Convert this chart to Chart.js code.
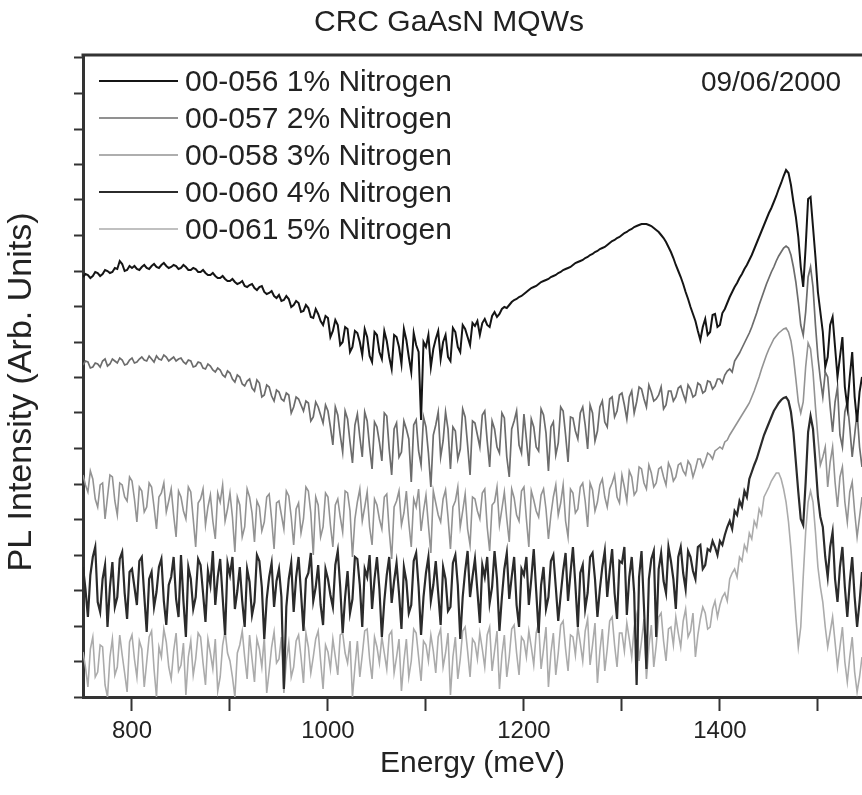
<!DOCTYPE html>
<html lang="en">
<head>
    <meta charset="UTF-8">
    <title>CRC GaAsN MQWs</title>
    <script src="https://cdn.jsdelivr.net/npm/chart.js"></script>
    <style>
        body { margin: 0; background: #fff; }
        #plChart { display: block; }
    </style>
</head>
<body>
    <canvas id="plChart" width="862" height="795"></canvas>

    <script>
        // Energy axis (meV), sampled every 2.5 meV
        const energy = [
            750, 752.5, 755, 757.5, 760, 762.5, 765, 767.5, 770, 772.5, 775, 777.5, 780, 782.5, 785, 787.5, 790, 792.5, 795, 797.5,
            800, 802.5, 805, 807.5, 810, 812.5, 815, 817.5, 820, 822.5, 825, 827.5, 830, 832.5, 835, 837.5, 840, 842.5, 845, 847.5,
            850, 852.5, 855, 857.5, 860, 862.5, 865, 867.5, 870, 872.5, 875, 877.5, 880, 882.5, 885, 887.5, 890, 892.5, 895, 897.5,
            900, 902.5, 905, 907.5, 910, 912.5, 915, 917.5, 920, 922.5, 925, 927.5, 930, 932.5, 935, 937.5, 940, 942.5, 945, 947.5,
            950, 952.5, 955, 957.5, 960, 962.5, 965, 967.5, 970, 972.5, 975, 977.5, 980, 982.5, 985, 987.5, 990, 992.5, 995, 997.5,
            1000, 1002.5, 1005, 1007.5, 1010, 1012.5, 1015, 1017.5, 1020, 1022.5, 1025, 1027.5, 1030, 1032.5, 1035, 1037.5, 1040, 1042.5, 1045, 1047.5,
            1050, 1052.5, 1055, 1057.5, 1060, 1062.5, 1065, 1067.5, 1070, 1072.5, 1075, 1077.5, 1080, 1082.5, 1085, 1087.5, 1090, 1092.5, 1095, 1097.5,
            1100, 1102.5, 1105, 1107.5, 1110, 1112.5, 1115, 1117.5, 1120, 1122.5, 1125, 1127.5, 1130, 1132.5, 1135, 1137.5, 1140, 1142.5, 1145, 1147.5,
            1150, 1152.5, 1155, 1157.5, 1160, 1162.5, 1165, 1167.5, 1170, 1172.5, 1175, 1177.5, 1180, 1182.5, 1185, 1187.5, 1190, 1192.5, 1195, 1197.5,
            1200, 1202.5, 1205, 1207.5, 1210, 1212.5, 1215, 1217.5, 1220, 1222.5, 1225, 1227.5, 1230, 1232.5, 1235, 1237.5, 1240, 1242.5, 1245, 1247.5,
            1250, 1252.5, 1255, 1257.5, 1260, 1262.5, 1265, 1267.5, 1270, 1272.5, 1275, 1277.5, 1280, 1282.5, 1285, 1287.5, 1290, 1292.5, 1295, 1297.5,
            1300, 1302.5, 1305, 1307.5, 1310, 1312.5, 1315, 1317.5, 1320, 1322.5, 1325, 1327.5, 1330, 1332.5, 1335, 1337.5, 1340, 1342.5, 1345, 1347.5,
            1350, 1352.5, 1355, 1357.5, 1360, 1362.5, 1365, 1367.5, 1370, 1372.5, 1375, 1377.5, 1380, 1382.5, 1385, 1387.5, 1390, 1392.5, 1395, 1397.5,
            1400, 1402.5, 1405, 1407.5, 1410, 1412.5, 1415, 1417.5, 1420, 1422.5, 1425, 1427.5, 1430, 1432.5, 1435, 1437.5, 1440, 1442.5, 1445, 1447.5,
            1450, 1452.5, 1455, 1457.5, 1460, 1462.5, 1465, 1467.5, 1470, 1472.5, 1475, 1477.5, 1480, 1482.5, 1485, 1487.5, 1490, 1492.5, 1495, 1497.5,
            1500, 1502.5, 1505, 1507.5, 1510, 1512.5, 1515, 1517.5, 1520, 1522.5, 1525, 1527.5, 1530, 1532.5, 1535, 1537.5, 1540, 1542.5, 1545
        ];

        // PL intensity (arb. units, curves stacked with offsets as in the figure)
        const n1 = [
            420, 423, 422, 419, 421, 425, 424, 421, 423, 427, 426, 424, 425, 429, 428, 436, 433, 426, 427, 431,
            429, 431, 428, 427, 430, 432, 429, 428, 431, 433, 430, 429, 432, 434, 431, 429, 430, 432, 431, 428,
            429, 432, 430, 427, 427, 429, 428, 425, 425, 427, 424, 422, 422, 424, 421, 419, 419, 421, 418, 416,
            416, 418, 415, 413, 414, 416, 411, 410, 412, 413, 409, 407, 410, 411, 405, 403, 404, 406, 401, 399,
            402, 396, 397, 401, 398, 390, 392, 396, 394, 385, 386, 392, 389, 380, 379, 388, 383, 376, 372, 381,
            379, 360, 366, 377, 372, 352, 355, 370, 368, 345, 350, 366, 364, 355, 342, 368, 360, 341, 335, 365,
            362, 345, 338, 366, 356, 340, 328, 362, 360, 350, 333, 368, 357, 340, 325, 364, 352, 345, 277, 355,
            350, 362, 330, 348, 358, 366, 338, 355, 362, 340, 336, 369, 365, 350, 345, 372, 368, 360, 352, 374,
            371, 376, 362, 374, 378, 372, 370, 381, 385, 380, 383, 388, 390, 389, 392, 395, 397, 398, 400, 401,
            403, 405, 407, 409, 410, 411, 413, 415, 416, 417, 418, 420, 421, 422, 424, 425, 427, 428, 429, 430,
            432, 434, 435, 436, 437, 439, 440, 442, 443, 445, 446, 448, 449, 450, 452, 454, 456, 457, 459, 460,
            462, 464, 465, 467, 468, 470, 471, 472, 473, 473, 473, 472, 471, 469, 467, 465, 462, 459, 455, 450,
            445, 439, 432, 426, 420, 413, 405, 398, 390, 383, 376, 366, 357, 370, 378, 362, 365, 382, 383, 370,
            372, 384, 388, 394, 400, 405, 410, 414, 419, 423, 428, 432, 437, 442, 448, 454, 460, 466, 472, 478,
            484, 489, 495, 501, 508, 514, 521, 527, 524, 512, 495, 480, 460, 430, 410, 450, 498, 500, 470, 440,
            405, 385, 365, 330, 340, 372, 380, 350, 320, 340, 360, 310, 290, 320, 345, 300, 275, 305, 320
        ];
        const n2 = [
            332, 336, 335, 329, 330, 334, 333, 330, 336, 338, 331, 333, 338, 336, 334, 339, 337, 332, 333, 337,
            339, 334, 335, 338, 340, 337, 336, 341, 338, 335, 341, 338, 337, 342, 340, 336, 338, 340, 336, 338,
            339, 335, 333, 337, 336, 330, 331, 335, 334, 329, 328, 333, 331, 327, 325, 329, 327, 322, 320, 326,
            324, 318, 315, 322, 320, 313, 311, 316, 318, 309, 306, 317, 314, 300, 302, 312, 310, 301, 296, 307,
            305, 298, 296, 304, 302, 284, 290, 300, 298, 292, 286, 296, 294, 276, 280, 295, 290, 282, 274, 292,
            286, 270, 252, 290, 282, 262, 245, 286, 278, 255, 234, 272, 283, 260, 240, 285, 276, 250, 228, 275,
            270, 255, 236, 284, 281, 248, 222, 268, 274, 240, 245, 276, 268, 258, 215, 272, 277, 246, 232, 280,
            270, 244, 210, 262, 272, 285, 240, 256, 285, 268, 228, 270, 266, 238, 248, 288, 280, 252, 222, 276,
            274, 262, 250, 282, 286, 256, 230, 276, 268, 250, 244, 284, 279, 240, 220, 268, 276, 286, 252, 244,
            283, 258, 231, 278, 270, 250, 246, 288, 282, 264, 226, 270, 275, 242, 254, 290, 286, 262, 235, 280,
            279, 266, 258, 284, 290, 272, 248, 292, 284, 256, 266, 290, 296, 275, 270, 298, 300, 280, 286, 302,
            304, 292, 278, 300, 306, 284, 295, 310, 308, 298, 290, 312, 305, 296, 298, 302, 310, 288, 292, 306,
            306, 296, 300, 309, 311, 303, 296, 312, 308, 300, 302, 314, 312, 304, 306, 316, 315, 308, 311, 318,
            318, 314, 322, 326, 328, 325, 336, 340, 344, 349, 354, 359, 364, 370, 377, 384, 392, 399, 406, 413,
            419, 425, 430, 436, 441, 445, 449, 451, 449, 442, 430, 415, 395, 372, 362, 385, 420, 430, 410, 372,
            340, 318, 300, 325, 320, 290, 265, 295, 310, 262, 250, 285, 295, 270, 240, 262, 285, 250, 230
        ];
        const n3 = [
            222, 212, 205, 226, 218, 198, 190, 212, 214, 178, 200, 222, 220, 196, 182, 214, 212, 200, 196, 220,
            216, 198, 175, 210, 206, 185, 190, 214, 210, 190, 168, 200, 204, 214, 185, 196, 208, 182, 160, 206,
            200, 186, 178, 210, 205, 178, 150, 194, 198, 208, 172, 190, 202, 176, 158, 204, 195, 212, 176, 188,
            204, 180, 145, 200, 192, 160, 170, 208, 200, 184, 155, 196, 190, 166, 175, 200, 203, 178, 148, 194,
            196, 182, 168, 206, 201, 180, 152, 188, 194, 164, 178, 210, 206, 184, 142, 200, 192, 160, 170, 204,
            200, 172, 150, 192, 198, 180, 165, 206, 204, 186, 140, 178, 195, 208, 176, 190, 205, 170, 152, 198,
            192, 178, 168, 200, 203, 166, 138, 190, 196, 206, 172, 184, 206, 174, 150, 198, 190, 208, 166, 186,
            202, 172, 144, 206, 194, 182, 175, 198, 207, 180, 148, 190, 196, 210, 170, 186, 203, 168, 152, 200,
            198, 186, 178, 204, 208, 170, 146, 192, 195, 210, 172, 188, 205, 178, 155, 208, 199, 182, 176, 206,
            210, 178, 150, 206, 197, 186, 180, 202, 208, 188, 158, 182, 200, 212, 182, 194, 212, 176, 160, 208,
            204, 184, 188, 210, 214, 196, 170, 214, 207, 186, 195, 212, 218, 200, 190, 208, 214, 222, 200, 194,
            222, 210, 196, 226, 220, 202, 206, 230, 228, 214, 208, 232, 224, 210, 214, 228, 230, 220, 212, 234,
            228, 216, 220, 232, 234, 226, 222, 236, 232, 220, 228, 238, 238, 230, 236, 244, 242, 238, 246, 248,
            250, 248, 255, 257, 262, 266, 270, 274, 278, 282, 286, 290, 294, 300, 306, 313, 320, 328, 335, 342,
            348, 353, 358, 361, 364, 366, 368, 369, 365, 356, 340, 318, 295, 284, 295, 330, 354, 348, 325, 290,
            260, 232, 240, 250, 210, 235, 250, 215, 190, 220, 230, 195, 175, 205, 215, 185, 160, 180, 200
        ];
        const n4 = [
            130, 108, 80, 122, 140, 150, 95, 85, 118, 132, 70, 110, 135, 90, 100, 138, 145, 104, 78, 125,
            128, 110, 92, 136, 140, 102, 65, 118, 125, 90, 105, 130, 138, 96, 72, 112, 120, 140, 98, 80,
            142, 96, 60, 130, 118, 88, 100, 138, 132, 104, 75, 126, 112, 146, 92, 120, 138, 100, 62, 134,
            122, 140, 88, 106, 130, 96, 70, 128, 115, 82, 95, 142, 136, 110, 58, 98, 120, 134, 90, 116,
            128, 100, 8, 90, 118, 134, 85, 120, 140, 104, 66, 118, 124, 144, 96, 110, 132, 92, 72, 128,
            118, 102, 90, 132, 146, 110, 64, 100, 126, 84, 98, 140, 138, 112, 70, 128, 120, 142, 88, 118,
            140, 108, 60, 96, 122, 140, 94, 116, 134, 104, 68, 130, 116, 84, 92, 136, 144, 110, 62, 100,
            124, 140, 96, 112, 136, 104, 72, 130, 118, 86, 90, 134, 142, 112, 58, 100, 126, 146, 100, 120,
            138, 106, 74, 132, 120, 140, 94, 110, 146, 118, 66, 100, 128, 144, 98, 120, 140, 92, 70, 128,
            122, 140, 92, 118, 148, 106, 64, 112, 130, 88, 100, 136, 142, 110, 76, 102, 126, 144, 96, 124,
            150, 112, 70, 124, 132, 88, 104, 140, 144, 118, 80, 108, 130, 146, 100, 126, 148, 104, 78, 136,
            134, 150, 82, 120, 140, 104, 12, 120, 146, 90, 28, 118, 138, 146, 60, 128, 144, 116, 104, 150,
            136, 118, 88, 140, 150, 124, 108, 146, 140, 126, 118, 150, 152, 128, 132, 148, 146, 156, 150, 142,
            156, 152, 162, 170, 176, 168, 186, 182, 196, 190, 206, 200, 218, 225, 232, 238, 246, 254, 262, 268,
            274, 280, 286, 290, 294, 297, 299, 300, 296, 285, 265, 235, 205, 178, 172, 215, 265, 281, 268, 235,
            200, 180, 170, 140, 120, 150, 165, 118, 95, 130, 150, 110, 80, 115, 140, 100, 70, 95, 125
        ];
        const n5 = [
            45, 30, 10, 48, 60, 20, 25, 52, 50, 12, 0, 40, 58, 22, 30, 62, 42, 24, 5, 55,
            62, 38, 20, 56, 48, 10, 35, 60, 66, 28, 0, 50, 40, 68, 55, 30, 18, 46, 64, 26,
            32, 54, 2, 40, 56, 22, 38, 64, 60, 34, 12, 58, 44, 28, 58, 6, 20, 52, 66, 44,
            36, 20, 0, 44, 52, 66, 40, 18, 62, 38, 15, 58, 48, 30, 60, 4, 26, 50, 65, 34,
            38, 60, 4, 36, 54, 20, 30, 56, 62, 40, 14, 64, 50, 24, 40, 58, 66, 36, 8, 52,
            45, 28, 58, 40, 22, 62, 64, 44, 34, 56, 0, 30, 56, 20, 42, 66, 68, 38, 18, 60,
            50, 34, 60, 44, 28, 62, 66, 24, 40, 58, 6, 36, 58, 20, 36, 68, 64, 40, 16, 56,
            52, 36, 62, 46, 24, 60, 68, 30, 44, 64, 2, 40, 60, 18, 38, 66, 70, 46, 20, 58,
            54, 38, 64, 48, 30, 62, 70, 26, 46, 66, 8, 42, 62, 20, 40, 68, 72, 44, 22, 60,
            56, 40, 66, 50, 32, 64, 74, 28, 48, 70, 10, 44, 64, 22, 44, 72, 76, 48, 26, 62,
            60, 42, 70, 54, 36, 66, 78, 32, 52, 74, 14, 46, 68, 26, 48, 76, 80, 52, 30, 64,
            64, 46, 74, 58, 40, 70, 82, 36, 56, 78, 18, 50, 72, 30, 52, 80, 84, 56, 36, 68,
            70, 52, 80, 64, 50, 76, 88, 60, 66, 84, 40, 62, 78, 90, 84, 68, 70, 88, 96, 80,
            92, 100, 104, 96, 118, 124, 128, 120, 140, 136, 152, 146, 164, 158, 176, 170, 188, 182, 200, 205,
            210, 216, 220, 224, 224, 218, 208, 195, 175, 148, 115, 80, 50, 70, 120, 165, 195, 206, 195, 165,
            130, 110, 95, 70, 50, 65, 80, 55, 30, 50, 70, 35, 15, 40, 60, 25, 5, 20, 40
        ];

        const seriesLabels = [
            '00-056 1% Nitrogen',
            '00-057 2% Nitrogen',
            '00-058 3% Nitrogen',
            '00-060 4% Nitrogen',
            '00-061 5% Nitrogen'
        ];
        const seriesColors = ['#151515', '#6c6c6c', '#939393', '#2b2b2b', '#ababab'];
        const seriesWidths = [2, 1.7, 1.6, 2.2, 1.6];

        // x ticks: every 100 meV, labels every 200 meV
        const xTicks = [800, 900, 1000, 1100, 1200, 1300, 1400, 1500];
        const xLabelled = [800, 1000, 1200, 1400];

        const chartTitle = 'CRC GaAsN MQWs';
        const dateText = '09/06/2000';
        const xTitle = 'Energy (meV)';
        const yTitle = 'PL Intensity (Arb. Units)';

        const fontFamily = '"Liberation Sans", Arial, sans-serif';
        Chart.defaults.font.family = fontFamily;
        Chart.defaults.color = '#222';

        // title, date, y title, inset legend and top frame line
        const annotations = {
            id: 'annotations',
            afterDraw(chart) {
                const ctx = chart.ctx;
                const area = chart.chartArea;
                ctx.save();

                ctx.strokeStyle = '#333';
                ctx.lineWidth = 3;
                ctx.beginPath();
                ctx.moveTo(area.left - 1.5, area.top);
                ctx.lineTo(area.right, area.top);
                ctx.stroke();

                ctx.fillStyle = '#222';
                ctx.textAlign = 'center';
                ctx.textBaseline = 'alphabetic';
                ctx.font = '30px ' + fontFamily;
                ctx.fillText(chartTitle, 449, 31);
                ctx.font = '28px ' + fontFamily;
                ctx.fillText(dateText, 771, 91);

                ctx.save();
                ctx.translate(22, 392);
                ctx.rotate(-Math.PI / 2);
                ctx.textBaseline = 'middle';
                ctx.font = '34px ' + fontFamily;
                ctx.fillText(yTitle, 0, 0);
                ctx.restore();

                // legend, one row per dataset
                ctx.textAlign = 'left';
                ctx.font = '30px ' + fontFamily;
                chart.data.datasets.forEach((ds, i) => {
                    const base = 91 + 37 * i;
                    ctx.strokeStyle = ds.borderColor;
                    ctx.lineWidth = Math.min(ds.borderWidth, 2);
                    ctx.beginPath();
                    ctx.moveTo(99, base - 10);
                    ctx.lineTo(178, base - 10);
                    ctx.stroke();
                    ctx.fillText(ds.label, 185, base);
                });

                ctx.restore();
            }
        };

        const datasets = [n1, n2, n3, n4, n5].map((values, i) => ({
            label: seriesLabels[i],
            data: values,
            borderColor: seriesColors[i],
            borderWidth: seriesWidths[i],
            pointRadius: 0,
            tension: 0,
            fill: false
        }));

        new Chart(document.getElementById('plChart'), {
            type: 'line',
            data: { labels: energy, datasets },
            options: {
                responsive: false,
                animation: false,
                devicePixelRatio: 1,
                layout: { padding: { top: 55, left: 0, right: 0, bottom: 0 } },
                plugins: {
                    legend: { display: false },
                    title: { display: false },
                    tooltip: { enabled: false }
                },
                scales: {
                    x: {
                        type: 'linear',
                        min: 750,
                        max: 1545,
                        afterFit(scale) { scale.height = 98; },
                        afterBuildTicks(scale) {
                            scale.ticks = xTicks.map(v => ({ value: v }));
                        },
                        ticks: {
                            autoSkip: false,
                            maxRotation: 0,
                            padding: 6,
                            color: '#222',
                            font: { size: 24 },
                            callback: v => (xLabelled.includes(v) ? String(v) : '')
                        },
                        grid: {
                            drawOnChartArea: false,
                            tickLength: 14,
                            tickWidth: 2,
                            tickColor: '#333'
                        },
                        border: { display: true, width: 3, color: '#333' },
                        title: {
                            display: true,
                            text: xTitle,
                            color: '#222',
                            font: { size: 30 },
                            padding: { top: 0, bottom: 13 }
                        }
                    },
                    y: {
                        min: 0,
                        max: 642,
                        afterFit(scale) { scale.width = 83; },
                        ticks: {
                            display: false,
                            stepSize: 35.5,
                            includeBounds: false,
                            maxTicksLimit: 100
                        },
                        grid: {
                            drawOnChartArea: false,
                            tickLength: 9,
                            tickWidth: 2,
                            tickColor: '#333'
                        },
                        border: { display: true, width: 3, color: '#333' }
                    }
                }
            },
            plugins: [annotations]
        });
    </script>
</body>
</html>
